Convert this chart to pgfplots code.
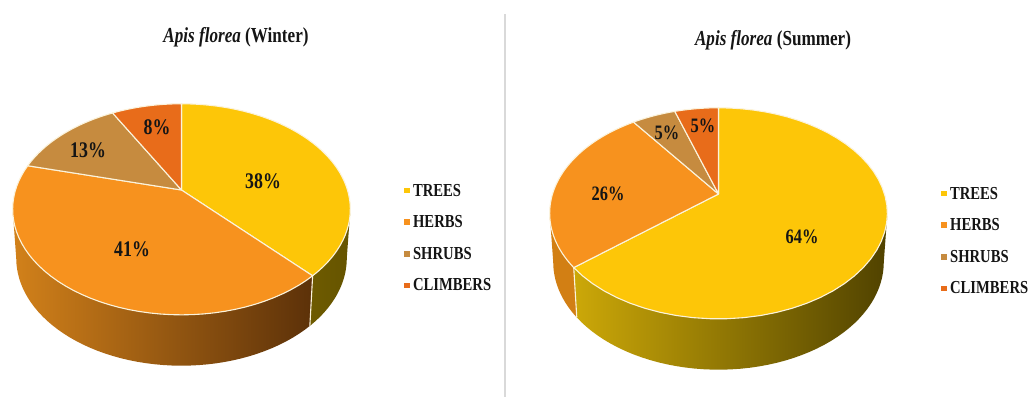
\documentclass[border=0pt]{standalone}
\usepackage{pgfplots}
\usepackage{pgfplotstable}
\usepackage{fontspec}
\pgfplotsset{compat=1.18}
\setmainfont{Liberation Serif}[FakeStretch=0.8]

\definecolor{treesc}{HTML}{FDC608}
\definecolor{herbsc}{HTML}{F7921E}
\definecolor{shrubsc}{HTML}{C68B3F}
\definecolor{climbersc}{HTML}{E86C1A}
\definecolor{rimc}{HTML}{FBF3DC}
\definecolor{inkc}{HTML}{151515}

% share = percentage of the slice, lx/ly = position of its label
\pgfplotstableread{
category share lx  ly
TREES    38    263 181
HERBS    41    132 249
SHRUBS   13    88  150
CLIMBERS 8     157 127
}\winterdata
\pgfplotstableread{
category share lx  ly
TREES    64    802 237
HERBS    26    608 194
SHRUBS   5     667 133
CLIMBERS 5     703 126
}\summerdata

\tikzset{
  slice 0/.style={fill=treesc},
  slice 1/.style={fill=herbsc},
  slice 2/.style={fill=shrubsc},
  slice 3/.style={fill=climbersc},
  winter wall 0/.style={left color=HTMLa,right color=HTMLa!92!black},
  winter wall 1/.style={left color=HTMLb,middle color=HTMLc,right color=HTMLd},
  summer wall 0/.style={left color=HTMLe,middle color=HTMLf,right color=HTMLg},
  summer wall 1/.style={left color=HTMLh,right color=HTMLh},
}
\definecolor{HTMLa}{HTML}{6E5B00}
\definecolor{HTMLb}{HTML}{D2811A}
\definecolor{HTMLc}{HTML}{A4691A}
\definecolor{HTMLd}{HTML}{5C3109}
\definecolor{HTMLe}{HTML}{CCA808}
\definecolor{HTMLf}{HTML}{8F7503}
\definecolor{HTMLg}{HTML}{504200}
\definecolor{HTMLh}{HTML}{D27F14}

% Perspective of the disc and of its lower edge
\def\persp{0.183}
\def\semiX{166}
\def\semiY{102}
\def\lowX{162.5}
\def\lowY{104}
\def\drop{48.4}
\def\wallfrom{100.6}
\def\wallto{259.4}

% Appends points of an elliptical rim: from, to, cx, cy, semi x, semi y
\newcommand\appendrim[6]{%
  \foreach \n in {0,...,48}{%
    \pgfmathsetmacro\tt{#1+(#2-#1)*\n/48}%
    \pgfmathsetmacro\den{1+\persp*cos(\tt)}%
    \pgfmathsetmacro\px{#3+#5*sin(\tt)/\den}%
    \pgfmathsetmacro\py{#4-#6*cos(\tt)/\den}%
    \xdef\pts{\pts (\px,\py)}%
  }%
}

% Draws one pie: table, wall style prefix, apex x, apex y, label font size
\newcommand\drawpie[5]{%
  \pgfmathsetmacro\lowcy{#4+\drop}%
  % side walls
  \gdef\acc{0}%
  \foreach \i in {0,...,3}{%
    \pgfplotstablegetelem{\i}{share}\of#1%
    \pgfmathsetmacro\aa{\acc*3.6}%
    \pgfmathsetmacro\bb{(\acc+\pgfplotsretval)*3.6}%
    \pgfmathsetmacro\newacc{\acc+\pgfplotsretval}%
    \xdef\acc{\newacc}%
    \pgfmathsetmacro\ff{max(\aa,\wallfrom)}%
    \pgfmathsetmacro\gg{min(\bb,\wallto)}%
    \pgfmathparse{\ff<\gg?1:0}%
    \ifnum\pgfmathresult=1
      \gdef\pts{}%
      \appendrim{\ff}{\gg}{#3}{#4}{\semiX}{\semiY}%
      \appendrim{\gg}{\ff}{#3}{\lowcy}{\lowX}{\lowY}%
      \edef\doplot{\noexpand\addplot[#2 wall \i,draw=none,forget plot] coordinates {\pts} -- cycle;}%
      \doplot
    \fi
  }%
  % seams between the walls
  \gdef\acc{0}%
  \foreach \i in {0,...,3}{%
    \pgfplotstablegetelem{\i}{share}\of#1%
    \pgfmathsetmacro\newacc{\acc+\pgfplotsretval}%
    \xdef\acc{\newacc}%
    \pgfmathsetmacro\bb{\acc*3.6}%
    \pgfmathparse{and(\bb>\wallfrom,\bb<\wallto)?1:0}%
    \ifnum\pgfmathresult=1
      \gdef\pts{}%
      \appendrim{\bb}{\bb}{#3}{#4}{\semiX}{\semiY}%
      \appendrim{\bb}{\bb}{#3}{\lowcy}{\lowX}{\lowY}%
      \edef\doplot{\noexpand\addplot[draw=rimc,line width=1.1pt,forget plot] coordinates {\pts};}%
      \doplot
    \fi
  }%
  % top faces, which also carry the legend entries
  \gdef\acc{0}%
  \foreach \i in {0,...,3}{%
    \pgfplotstablegetelem{\i}{share}\of#1%
    \let\sharev\pgfplotsretval
    \pgfmathsetmacro\aa{\acc*3.6}%
    \pgfmathsetmacro\newacc{\acc+\sharev}%
    \xdef\acc{\newacc}%
    \pgfmathsetmacro\bb{\acc*3.6}%
    \xdef\pts{(#3,#4)}%
    \appendrim{\aa}{\bb}{#3}{#4}{\semiX}{\semiY}%
    \edef\doplot{\noexpand\addplot[slice \i,draw=rimc,line width=1.1pt,line join=round] coordinates {\pts} -- cycle;}%
    \doplot
  }%
  % value labels
  \foreach \i in {0,...,3}{%
    \pgfplotstablegetelem{\i}{share}\of#1\let\sharev\pgfplotsretval
    \pgfplotstablegetelem{\i}{lx}\of#1\let\lxv\pgfplotsretval
    \pgfplotstablegetelem{\i}{ly}\of#1\let\lyv\pgfplotsretval
    \edef\donode{\noexpand\node[text=inkc,font=\noexpand\fontsize{#5}{24}\noexpand\selectfont\noexpand\bfseries,inner sep=0pt] at (axis cs:\lxv,\lyv) {\sharev\noexpand\%};}%
    \donode
  }%
}

\pgfplotsset{
  canvas/.style={
    at={(0,0)},anchor=south west,scale only axis,
    width=1030pt,height=397pt,
    xmin=0,xmax=1030,ymin=0,ymax=397,y dir=reverse,
    axis lines=none,clip=false,
    legend entries={TREES,HERBS,SHRUBS,CLIMBERS},
    legend cell align=left,
    legend image code/.code={\fill[##1,draw=none] (0pt,-2.8pt) rectangle (5.6pt,2.8pt);},
  },
  pie legend/.style 2 args={
    legend style={
      at={(axis cs:#1,#2)},anchor=north west,draw=none,fill=none,
      font=\fontsize{18.3}{18}\selectfont\bfseries,text=inkc,
      inner sep=0pt,outer sep=0pt,
      row sep=20.6pt,
      nodes={inner sep=0pt,outer sep=0pt,text height=11pt,text depth=0pt},
      column sep=3.5pt,
    },
  },
}

\begin{document}
\begin{tikzpicture}[x=1pt,y=1pt]
\path[use as bounding box] (0,0) rectangle (1030,397);

\begin{axis}[canvas,pie legend={404}{185}]
  \drawpie{\winterdata}{winter}{181.5}{190}{22.3}
  \addplot[draw=black!15,line width=1.3pt,forget plot] coordinates {(505,14) (505,397)};
  \node[text=inkc,font=\fontsize{21.4}{23}\selectfont\bfseries,inner sep=0pt] at (axis cs:236,37) {\textit{Apis florea} (Winter)};
\end{axis}

\begin{axis}[canvas,pie legend={941}{188}]
  \drawpie{\summerdata}{summer}{718.5}{194}{20.5}
  \node[text=inkc,font=\fontsize{21.4}{23}\selectfont\bfseries,inner sep=0pt] at (axis cs:773,40) {\textit{Apis florea} (Summer)};
\end{axis}
\end{tikzpicture}
\end{document}
